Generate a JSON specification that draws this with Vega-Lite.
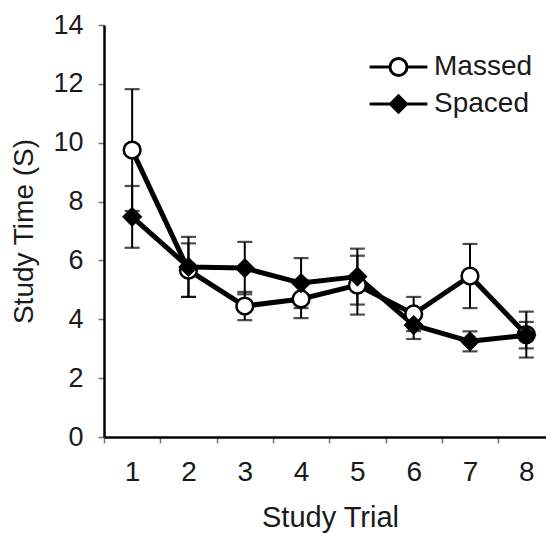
{
  "$schema": "https://vega.github.io/schema/vega-lite/v6.json",
  "width": 442,
  "height": 412,
  "autosize": {"type": "none"},
  "padding": {"left": 104, "top": 25, "right": 0, "bottom": 97},
  "background": "white",
  "config": {"view": {"stroke": null}, "font": "Liberation Sans", "axis": {"domainColor": "#000000", "domainWidth": 2.5}},
  "data": {
    "values": [
      {"trial": 1, "cond": "Massed", "mean": 9.75, "err": 2.07},
      {"trial": 2, "cond": "Massed", "mean": 5.67, "err": 0.91},
      {"trial": 3, "cond": "Massed", "mean": 4.45, "err": 0.48},
      {"trial": 4, "cond": "Massed", "mean": 4.69, "err": 0.65},
      {"trial": 5, "cond": "Massed", "mean": 5.16, "err": 1.0},
      {"trial": 6, "cond": "Massed", "mean": 4.18, "err": 0.58},
      {"trial": 7, "cond": "Massed", "mean": 5.47, "err": 1.09},
      {"trial": 8, "cond": "Massed", "mean": 3.48, "err": 0.78},
      {"trial": 1, "cond": "Spaced", "mean": 7.48, "err": 1.05},
      {"trial": 2, "cond": "Spaced", "mean": 5.78, "err": 1.02},
      {"trial": 3, "cond": "Spaced", "mean": 5.74, "err": 0.89},
      {"trial": 4, "cond": "Spaced", "mean": 5.23, "err": 0.85},
      {"trial": 5, "cond": "Spaced", "mean": 5.45, "err": 0.95},
      {"trial": 6, "cond": "Spaced", "mean": 3.8, "err": 0.47},
      {"trial": 7, "cond": "Spaced", "mean": 3.25, "err": 0.34},
      {"trial": 8, "cond": "Spaced", "mean": 3.46, "err": 0.45}
    ]
  },
  "encoding": {
    "x": {
      "field": "trial",
      "type": "quantitative",
      "scale": {"domain": [0.5, 8.35], "nice": false, "zero": false},
      "axis": {
        "values": [1, 2, 3, 4, 5, 6, 7, 8],
        "format": "d",
        "title": "Study Trial",
        "grid": false,
        "domainColor": "#000000",
        "domainWidth": 2.5,
        "tickColor": "#777777",
        "tickWidth": 1.5,
        "tickSize": 6,
        "tickOffset": -28.15,
        "labelOffset": 28.15,
        "labelFontSize": 28,
        "labelColor": "#1a1a1a",
        "labelPadding": 15,
        "labelFlush": false,
        "titleFontSize": 29,
        "titleFontWeight": "normal",
        "titleColor": "#1a1a1a",
        "titleX": 226,
        "titleY": 89,
        "titleBaseline": "alphabetic"
      }
    },
    "y": {
      "field": "mean",
      "type": "quantitative",
      "scale": {"domain": [0, 14], "nice": false},
      "axis": {
        "values": [0, 2, 4, 6, 8, 10, 12, 14],
        "title": "Study Time (S)",
        "grid": false,
        "domainColor": "#000000",
        "domainWidth": 2.5,
        "tickColor": "#777777",
        "tickWidth": 1.5,
        "tickSize": 6,
        "labelFontSize": 27,
        "labelPadding": 15,
        "labelColor": "#1a1a1a",
        "titleFontSize": 28,
        "titleFontWeight": "normal",
        "titleColor": "#1a1a1a",
        "titleAngle": 270,
        "titleAlign": "center",
        "titleX": -72,
        "titleY": 206,
        "titleBaseline": "alphabetic"
      }
    }
  },
  "resolve": {"scale": {"shape": "independent", "fill": "independent"}},
  "layer": [
    {
      "mark": {
        "type": "errorbar",
        "color": "black",
        "ticks": {"size": 15, "thickness": 2.2, "color": "black"},
        "rule": {"strokeWidth": 2, "color": "black"}
      },
      "encoding": {
        "yError": {"field": "err"},
        "detail": {"field": "cond", "type": "nominal"}
      }
    },
    {
      "mark": {"type": "line", "strokeWidth": 5, "color": "black", "strokeJoin": "round"},
      "encoding": {"detail": {"field": "cond", "type": "nominal"}}
    },
    {
      "mark": {"type": "point", "filled": true, "opacity": 1, "stroke": "black", "strokeWidth": 2.5, "size": 280},
      "encoding": {
        "shape": {
          "field": "cond",
          "type": "nominal",
          "scale": {"domain": ["Massed", "Spaced"], "range": ["circle", "diamond"]},
          "legend": null
        },
        "fill": {
          "field": "cond",
          "type": "nominal",
          "scale": {"domain": ["Massed", "Spaced"], "range": ["white", "black"]},
          "legend": null
        }
      }
    },
    {
      "mark": {"type": "point", "filled": true, "opacity": 0, "stroke": "black", "strokeWidth": 3, "size": 289},
      "encoding": {
        "shape": {
          "field": "cond",
          "type": "nominal",
          "scale": {
            "domain": ["Massed", "Spaced"],
            "range": [
              "M-3.4,0H-1M1,0H3.4M-1,0A1,1,0,1,1,1,0A1,1,0,1,1,-1,0Z",
              "M-3.4,0H3.4M-0.95,0L0,-0.95L0.95,0L0,0.95Z"
            ]
          },
          "legend": {
            "title": null,
            "orient": "none",
            "legendX": 280.5,
            "legendY": 28,
            "padding": 0,
            "symbolSize": 289,
            "symbolOpacity": 1,
            "symbolStrokeWidth": 3,
            "symbolStrokeColor": "black",
            "labelFontSize": 28,
            "labelColor": "#1a1a1a",
            "labelOffset": 21.5,
            "rowPadding": 7,
            "encode": {
              "symbols": {
                "update": {
                  "stroke": {"value": "black"},
                  "strokeWidth": {"value": 3},
                  "strokeOpacity": {"value": 1}
                }
              }
            }
          }
        },
        "fill": {
          "field": "cond",
          "type": "nominal",
          "scale": {"domain": ["Massed", "Spaced"], "range": ["white", "black"]},
          "legend": {
            "title": null,
            "orient": "none",
            "legendX": 280.5,
            "legendY": 28,
            "padding": 0,
            "symbolSize": 289,
            "symbolOpacity": 1,
            "symbolStrokeWidth": 3,
            "symbolStrokeColor": "black",
            "labelFontSize": 28,
            "labelColor": "#1a1a1a",
            "labelOffset": 21.5,
            "rowPadding": 7,
            "encode": {
              "symbols": {
                "update": {
                  "stroke": {"value": "black"},
                  "strokeWidth": {"value": 3},
                  "strokeOpacity": {"value": 1}
                }
              }
            }
          }
        }
      }
    }
  ]
}
